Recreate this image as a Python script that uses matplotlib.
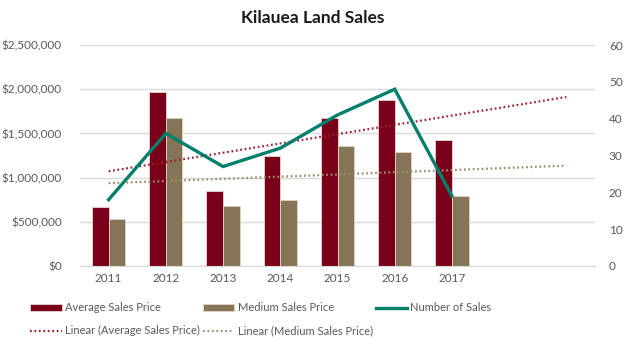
import numpy as np
import matplotlib
matplotlib.use("Agg")
import matplotlib.pyplot as plt
from matplotlib.ticker import FuncFormatter, MultipleLocator

plt.rcParams['font.family'] = ['Lato', 'DejaVu Sans']

# Data
years = ["2011", "2012", "2013", "2014", "2015", "2016", "2017"]
avg_price = [667000, 1966000, 847000, 1240000, 1677000, 1880000, 1428000]
med_price = [528000, 1677000, 682000, 750000, 1360000, 1285000, 795000]
num_sales = [18, 36, 27, 32, 41, 48, 19]
forecast_periods = 2

c_avg = "#7a0019"
c_med = "#857455"
c_num = "#00806a"
c_tr_avg = "#9b2335"
c_tr_med = "#9c8c6c"
c_grid = "#d9d9d9"
c_text = "#595959"

n = len(years)
x = np.arange(n)
x_all = np.arange(n + forecast_periods)
labels = years + [""] * forecast_periods

fig = plt.figure(figsize=(6.26, 3.42), dpi=100)
ax = fig.add_axes([80 / 626, 1 - 266 / 342, 515 / 626, 221 / 342])
ax2 = ax.twinx()

bw = 0.29
ax.bar(x - bw / 2, avg_price, width=bw, color=c_avg, edgecolor="#e8d6d9",
       linewidth=0.6, label="Average Sales Price", zorder=2)
ax.bar(x + bw / 2, med_price, width=bw, color=c_med, edgecolor="#ddd5c8",
       linewidth=0.6, label="Medium Sales Price", zorder=2)

# Linear trendlines, extended forward
xt = np.array([0, n - 1 + forecast_periods])
pa = np.polyfit(x, avg_price, 1)
pm = np.polyfit(x, med_price, 1)
ax.plot(xt, np.polyval(pa, xt), color=c_tr_avg, lw=1.6, ls=(0, (0.8, 1.2)),
        label="Linear (Average Sales Price)", zorder=3)
ax.plot(xt, np.polyval(pm, xt), color=c_tr_med, lw=1.6, ls=(0, (0.8, 1.2)),
        label="Linear (Medium Sales Price)", zorder=3)

ax.set_xlim(-0.5, n + forecast_periods - 0.5)
ax.set_ylim(0, 2500000)
ax2.set_ylim(0, 60)
ax.yaxis.set_major_locator(MultipleLocator(500000))
ax2.yaxis.set_major_locator(MultipleLocator(10))
ax.yaxis.set_major_formatter(FuncFormatter(lambda v, p: f"${v:,.0f}"))
ax.set_xticks(x_all)
ax.set_xticklabels(labels)

ax.grid(axis="y", color=c_grid, lw=1.0, zorder=0)
ax.set_axisbelow(True)
for a in (ax, ax2):
    for s in a.spines.values():
        s.set_visible(False)
    a.tick_params(length=0, labelsize=8.5, colors=c_text)
ax.spines["bottom"].set_visible(True)
ax.spines["bottom"].set_color(c_grid)
ax.tick_params(axis="y", pad=13)
ax.tick_params(axis="x", pad=5)
ax2.tick_params(axis="y", pad=10)

# Bars axis on top, number-of-sales line drawn in the right-axis scale
ax.set_zorder(ax2.get_zorder() + 1)
ax.patch.set_visible(False)
ax.plot(x, num_sales, color=c_num, lw=2.4, label="Number of Sales",
        transform=ax2.transData, solid_joinstyle="miter", zorder=4)

fig.text(0.5, 1 - 18 / 342, "Kilauea Land Sales", ha="center", va="center",
         fontsize=12.5, fontweight="bold", color="#1a1a1a")

h, l = ax.get_legend_handles_labels()
d = dict(zip(l, h))
order = ["Average Sales Price", "Linear (Average Sales Price)",
         "Medium Sales Price", "Linear (Medium Sales Price)", "Number of Sales"]
leg = fig.legend([d[k] for k in order], order, ncol=3, loc="upper left",
                 bbox_to_anchor=(26 / 626, 1 - 298 / 342), frameon=False,
                 fontsize=8, handlelength=2.8, handleheight=0.5,
                 handletextpad=0.3, columnspacing=0.3, labelspacing=1.05,
                 borderaxespad=0)
for t in leg.get_texts():
    t.set_color(c_text)

fig.savefig("out.png", dpi=100)
